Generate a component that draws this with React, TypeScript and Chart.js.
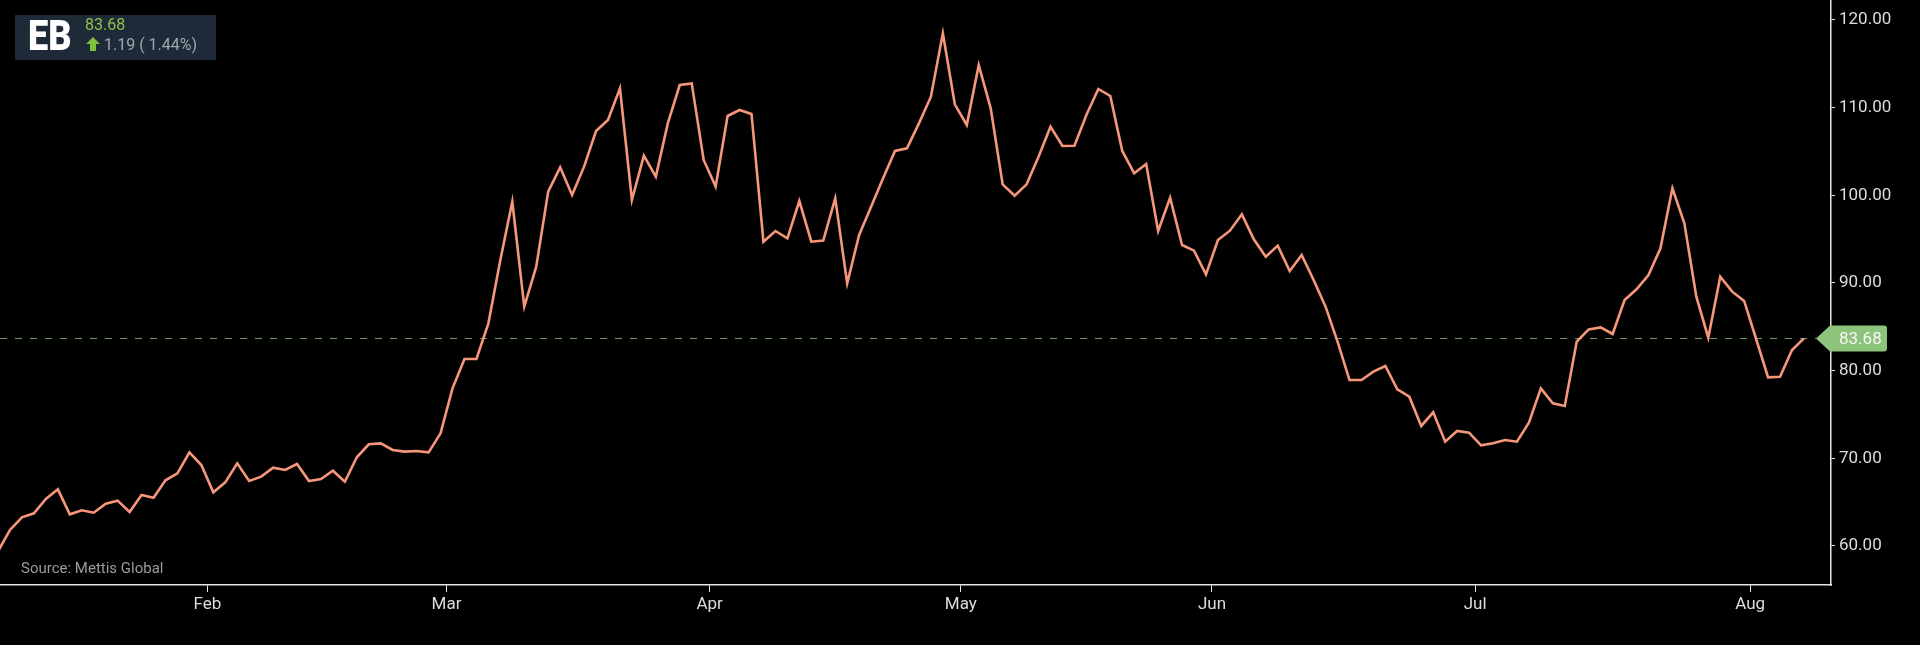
import React, { useEffect, useRef } from 'react'
import { Chart, registerables } from 'chart.js'

Chart.register(...registerables)

// one close per trading day, the first one sits just left of the visible area
const prices: number[] = [
  59.4,
  61.83, 63.27, 63.73, 65.36, 66.46, 63.61, 64.07, 63.8, 64.83, 65.17,
  63.88, 65.82, 65.51, 67.49, 68.29, 70.68, 69.24, 66.12, 67.26, 69.43,
  67.41, 67.91, 68.93, 68.67, 69.35, 67.41, 67.64, 68.59, 67.33, 70.12,
  71.6, 71.71, 70.95, 70.76, 70.84, 70.68, 72.85, 77.98, 81.33, 81.33,
  85.4, 92.62, 99.28, 87.3, 91.86, 100.42, 103.19, 100.04, 103.27, 107.34,
  108.59, 112.2, 99.47, 104.52, 102.13, 108.21, 112.58, 112.77, 104.03, 100.99,
  109.05, 109.73, 109.28, 94.71, 95.93, 95.09, 99.35, 94.71, 94.83, 99.66,
  89.96, 95.47, 98.71, 101.94, 105.06, 105.36, 108.21, 111.25, 118.48, 110.38,
  108.02, 114.86, 109.92, 101.25, 99.96, 101.25, 104.41, 107.83, 105.63, 105.66,
  109.16, 112.13, 111.33, 105.06, 102.51, 103.57, 95.93, 99.73, 94.33, 93.69,
  90.99, 94.9, 95.97, 97.83, 94.98, 93.0, 94.26, 91.37, 93.19, 90.34,
  87.3, 83.31, 78.93, 78.93, 79.89, 80.53, 77.87, 77.03, 73.69, 75.25,
  71.9, 73.12, 72.93, 71.48, 71.71, 72.09, 71.9, 74.07, 77.98, 76.27,
  75.97, 83.31, 84.71, 84.94, 84.18, 88.06, 89.28, 90.91, 93.95, 100.8,
  96.8, 88.44, 83.76, 90.72, 89.01, 87.95, 83.61, 79.24, 79.31, 82.36,
  83.68,
]

// month labels and the index of the first trading day of each month
const months: string[] = ['Feb', 'Mar', 'Apr', 'May', 'Jun', 'Jul', 'Aug']
const monthStart: number[] = [18, 38, 60, 81, 102, 124, 147]

const yTicks: number[] = [60, 70, 80, 90, 100, 110, 120]

const ticker = 'EB'
const lastPrice = 83.68
const change = 1.19
const changePct = 1.44
const source = 'Source: Mettis Global'

const FONT = 'Roboto'

// dashed last-price line behind the series, price tag on top of the axis
const lastPricePlugin = {
  id: 'lastPrice',
  beforeDatasetsDraw(chart: any) {
    const { ctx, chartArea, scales } = chart
    const y = Math.round(scales.y.getPixelForValue(lastPrice)) + 0.5
    ctx.save()
    ctx.strokeStyle = '#6b9b5a'
    ctx.lineWidth = 1.2
    ctx.setLineDash([7, 8])
    ctx.beginPath()
    ctx.moveTo(chartArea.left, y)
    ctx.lineTo(chartArea.right - 14, y)
    ctx.stroke()
    ctx.restore()
  },
  afterDraw(chart: any) {
    const { ctx, chartArea, scales } = chart
    const y = scales.y.getPixelForValue(lastPrice)
    const tip = chartArea.right - 15
    const left = chartArea.right - 1
    const right = chartArea.right + 56
    const h = 13
    const r = 3
    ctx.save()
    ctx.fillStyle = '#8cc47b'
    ctx.beginPath()
    ctx.moveTo(tip, y)
    ctx.lineTo(left, y - h)
    ctx.lineTo(right - r, y - h)
    ctx.quadraticCurveTo(right, y - h, right, y - h + r)
    ctx.lineTo(right, y + h - r)
    ctx.quadraticCurveTo(right, y + h, right - r, y + h)
    ctx.lineTo(left, y + h)
    ctx.closePath()
    ctx.fill()
    ctx.fillStyle = '#f6f6f6'
    ctx.font = `17px ${FONT}`
    ctx.textAlign = 'left'
    ctx.textBaseline = 'middle'
    ctx.fillText(lastPrice.toFixed(2), chartArea.right + 8, y + 1)
    ctx.restore()
  },
}

const PriceChart: React.FC = () => {
  const chartRef = useRef<HTMLCanvasElement | null>(null)
  const chartInstance = useRef<Chart | null>(null)

  useEffect(() => {
    const ctx = chartRef.current?.getContext('2d')
    if (!ctx) return

    const points = prices.map((p, i) => ({ x: i, y: p }))

    chartInstance.current = new Chart(ctx, {
      type: 'line',
      data: {
        datasets: [
          {
            data: points,
            borderColor: '#f6977b',
            borderWidth: 2.6,
            pointRadius: 0,
            tension: 0,
          },
        ],
      },
      options: {
        animation: false,
        responsive: true,
        maintainAspectRatio: false,
        layout: { padding: 0 },
        plugins: {
          legend: { display: false },
          tooltip: { enabled: false },
        },
        scales: {
          x: {
            type: 'linear',
            min: 0.164,
            max: 153.26,
            afterBuildTicks: (scale: any) => {
              scale.ticks = monthStart.map((i) => ({ value: i - 0.5 }))
            },
            afterFit: (scale: any) => {
              scale.height = 60
              scale.paddingLeft = 0
              scale.paddingRight = 0
            },
            ticks: {
              autoSkip: false,
              maxRotation: 0,
              padding: 3,
              color: '#dddddd',
              font: { family: FONT, size: 17 },
              callback: (_v: any, index: number) => months[index],
            },
            grid: {
              drawOnChartArea: false,
              drawTicks: true,
              tickLength: 7,
              color: '#e6e6e6',
            },
            border: { display: true, color: '#e6e6e6', width: 1.5 },
          },
          y: {
            type: 'linear',
            position: 'right',
            min: 55.55,
            max: 122.28,
            afterBuildTicks: (scale: any) => {
              scale.ticks = yTicks.map((v) => ({ value: v }))
            },
            afterFit: (scale: any) => {
              scale.width = 89
              scale.paddingTop = 0
              scale.paddingBottom = 0
            },
            ticks: {
              padding: 4,
              color: '#dddddd',
              font: { family: FONT, size: 17 },
              callback: (v: any) => Number(v).toFixed(2),
            },
            grid: {
              drawOnChartArea: false,
              drawTicks: true,
              tickLength: 4,
              color: '#e6e6e6',
            },
            border: { display: true, color: '#e6e6e6', width: 1.5 },
          },
        },
      },
      plugins: [lastPricePlugin],
    })

    return () => {
      if (chartInstance.current) {
        chartInstance.current.destroy()
        chartInstance.current = null
      }
    }
  }, [])

  return <canvas ref={chartRef}></canvas>
}

export default function App() {
  return (
    <div
      style={{
        position: 'fixed',
        left: 0,
        top: 0,
        width: 1920,
        height: 645,
        background: '#000',
        overflow: 'hidden',
        fontFamily: FONT,
      }}
    >
      <div style={{ position: 'absolute', left: 0, top: 0, width: 1920, height: 645 }}>
        <PriceChart />
      </div>

      {/* ticker badge */}
      <div
        style={{
          position: 'absolute',
          left: 15,
          top: 15,
          width: 201,
          height: 45,
          background: '#1e2a37',
        }}
      >
        <span
          style={{
            position: 'absolute',
            left: 13,
            top: 0,
            fontSize: 42,
            lineHeight: '42px',
            fontWeight: 900,
            color: '#ffffff',
            transform: 'scaleX(0.86)',
            transformOrigin: 'left center',
            whiteSpace: 'nowrap',
          }}
        >
          {ticker}
        </span>
        <span
          style={{
            position: 'absolute',
            left: 70,
            top: 1.5,
            fontSize: 16,
            lineHeight: '16px',
            color: '#8bc34a',
            whiteSpace: 'nowrap',
          }}
        >
          {lastPrice.toFixed(2)}
        </span>
        <svg
          style={{ position: 'absolute', left: 71, top: 22 }}
          width="14"
          height="14"
          viewBox="0 0 14 14"
        >
          <polygon points="7,0 14,7 10,7 10,14 4,14 4,7 0,7" fill="#7fbf3f" />
        </svg>
        <span
          style={{
            position: 'absolute',
            left: 89,
            top: 21.5,
            fontSize: 16,
            lineHeight: '16px',
            color: '#9ea7b0',
            whiteSpace: 'nowrap',
          }}
        >
          {`${change.toFixed(2)} ( ${changePct.toFixed(2)}%)`}
        </span>
      </div>

      <span
        style={{
          position: 'absolute',
          left: 21,
          top: 561,
          fontSize: 15,
          lineHeight: '15px',
          color: '#9b9b9b',
          whiteSpace: 'nowrap',
        }}
      >
        {source}
      </span>
    </div>
  )
}
